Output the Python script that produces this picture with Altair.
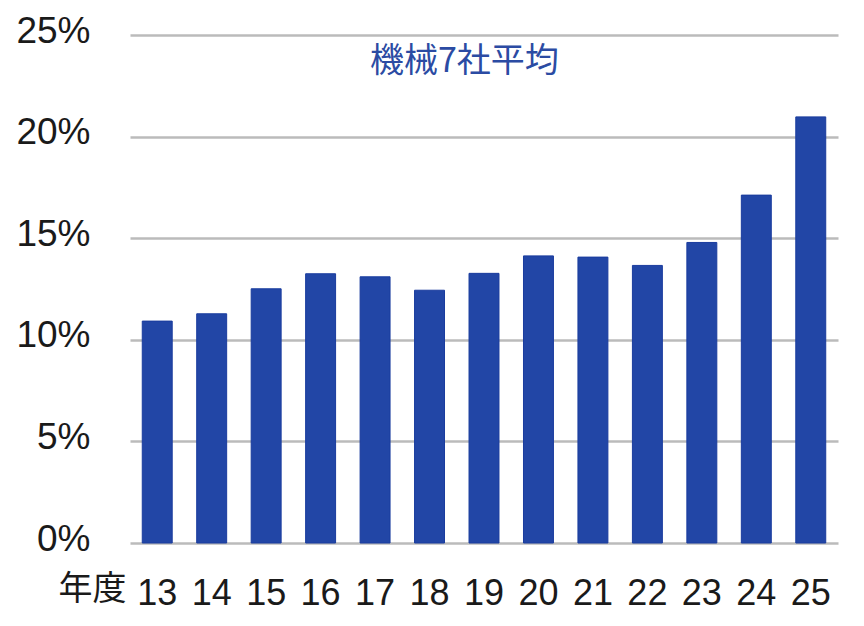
import altair as alt
import pandas as pd

years = ["13", "14", "15", "16", "17", "18", "19", "20", "21", "22", "23", "24", "25"]
values = [10.92, 11.28, 12.51, 13.25, 13.10, 12.44, 13.27, 14.13, 14.07, 13.66, 14.79, 17.12, 20.97]

df = pd.DataFrame({"year": years, "value": [v / 100 for v in values]})

chart = alt.Chart(df).mark_bar(
    color="#2246A6", stroke="#1A3C9E", strokeWidth=1
).encode(
    x=alt.X("year:N", sort=years,
            scale=alt.Scale(paddingInner=0.45, paddingOuter=0.225),
            axis=alt.Axis(title="年度", labelAngle=0, labelFont="Liberation Sans",
                          labelFontSize=36, labelColor="#1a1a1a", labelPadding=33,
                          ticks=False, domain=False,
                          titleFont="Noto Sans CJK JP", titleFontSize=34,
                          titleFontWeight="normal", titleColor="#1a1a1a",
                          titleX=-4, titleY=29, titleAlign="right",
                          titleBaseline="top", titleAnchor="start")),
    y=alt.Y("value:Q", scale=alt.Scale(domain=[0, 0.25], nice=False),
            axis=alt.Axis(title=None, values=[0, 0.05, 0.1, 0.15, 0.2, 0.25],
                          format=".0%", labelFont="Liberation Sans",
                          labelFontSize=37, labelColor="#1a1a1a",
                          labelPadding=40, labelOffset=-4,
                          ticks=False, domain=False,
                          grid=True, gridColor="#BBBBBB", gridWidth=2.5)),
).properties(
    width=708,
    height=508,
    title=alt.Title("機械7社平均", anchor="start", frame="group", dx=240, dy=67,
                    offset=0, baseline="top", font="Noto Sans CJK JP", fontSize=34,
                    fontWeight="normal", color="#2B4BA3"),
    autosize=alt.AutoSizeParams(type="none"),
    padding={"left": 122, "top": 27, "right": 18, "bottom": 80},
).configure(background="white").configure_view(strokeWidth=0)

chart.save("out.html", embed_options={"renderer": "svg", "actions": False})
